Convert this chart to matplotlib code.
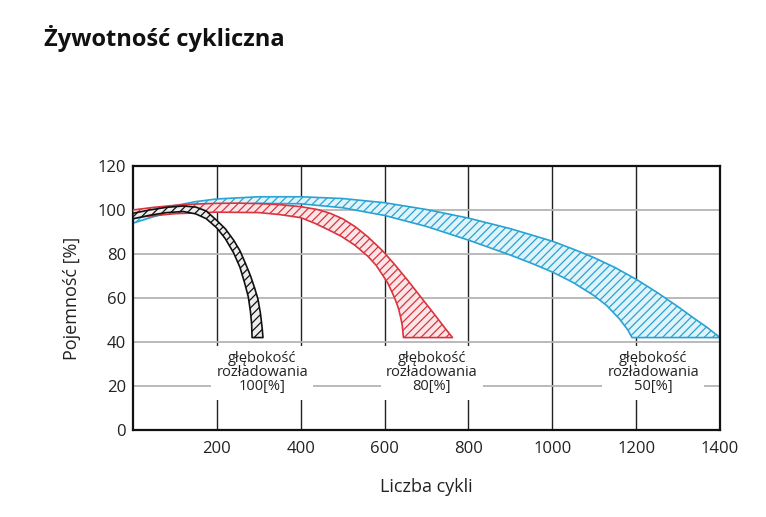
"""
plot.py — Żywotność cykliczna (pojemność vs liczba cykli dla trzech głębokości rozładowania)
"""

import matplotlib

matplotlib.use("Agg")
import matplotlib.pyplot as plt

plt.rcParams["font.family"] = ["Open Sans", "DejaVu Sans"]
plt.rcParams["hatch.linewidth"] = 0.9

# 50% DoD — niebieskie pasmo (górna i dolna krawędź)
blue_upper_x = [0, 50, 100, 150, 200, 300, 400, 500, 600, 700, 800, 900, 1000, 1050, 1100,
                1150, 1200, 1250, 1300, 1340, 1370, 1390, 1400]
blue_upper_y = [96.5, 99.5, 102, 103.8, 105, 106, 106, 105.2, 103.3, 100.2, 96.3, 91.5, 85.8, 82.2, 78.3,
                73.8, 68.5, 62.5, 56, 50.5, 46.5, 43.5, 42]
blue_lower_x = [0, 50, 100, 150, 200, 300, 400, 500, 600, 700, 800, 900, 950, 1000, 1050, 1100,
                1130, 1160, 1180, 1190]
blue_lower_y = [94, 97, 99.5, 101, 102, 103, 102.8, 101, 97.5, 92.5, 86.3, 79.5, 75.8, 71.8, 67, 61,
                56.5, 50.5, 45.5, 42]

# 80% DoD — czerwone pasmo
red_upper_x = [0, 50, 100, 150, 200, 250, 300, 350, 400, 440, 470, 500, 530, 560, 595, 625, 657,
               689, 720, 744, 762]
red_upper_y = [100, 101.2, 102.1, 102.7, 103, 103.1, 102.9, 102.4, 101.5, 100.2, 98.5, 96, 92.4, 87.8,
               81.5, 75, 67.6, 59.8, 52.3, 46.3, 42]
red_lower_x = [0, 100, 200, 300, 350, 400, 433, 466, 497, 529, 561, 580, 595, 607, 617, 626, 633,
               638, 642, 645]
red_lower_y = [96.5, 98.3, 99, 98.8, 97.9, 96.5, 94, 91, 88, 84, 78.8, 74.8, 70.5, 67, 63, 59, 55.3,
               51.5, 47.7, 42]

# 100% DoD — czarne pasmo
black_upper_x = [0, 40, 80, 120, 150, 175, 200, 220, 240, 255, 268, 280, 290, 298, 304, 308, 310]
black_upper_y = [98.5, 100, 101.2, 101.8, 101.3, 99.5, 95.2, 91.5, 86.3, 81.5, 75.8, 70.2, 64.6, 59.5,
                 53, 46.5, 42]
black_lower_x = [0, 40, 80, 120, 150, 175, 200, 220, 240, 255, 266, 275, 280, 283, 284]
black_lower_y = [96, 97.6, 98.8, 99.3, 98.2, 96, 91.8, 87, 80.5, 74, 67, 60.5, 54, 48, 42]

labels = ["głębokość\nrozładowania\n100[%]", "głębokość\nrozładowania\n80[%]",
          "głębokość\nrozładowania\n50[%]"]
label_x = [308, 712, 1241]
label_y = [26.0, 26.0, 26.0]

x_ticks = [200, 400, 600, 800, 1000, 1200, 1400]
y_ticks = [0, 20, 40, 60, 80, 100, 120]


def _band(ax, ux, uy, lx, ly, edge, face, z):
    xs = list(ux) + list(lx[::-1])
    ys = list(uy) + list(ly[::-1])
    ax.fill(xs, ys, facecolor=face, edgecolor=edge, hatch="////", linewidth=1.2,
            joinstyle="round", zorder=z)


fig = plt.figure(figsize=(7.66, 5.17), dpi=100)
ax = fig.add_axes([0.1736, 0.1683, 0.7664, 0.5107])

ax.set_xlim(0, 1400)
ax.set_ylim(0, 120)

for xv in x_ticks[:-1]:
    ax.axvline(xv, color="#222222", linewidth=1.0, zorder=1)
for yv in y_ticks[1:-1]:
    ax.axhline(yv, color="#b4b4b4", linewidth=1.3, zorder=1)

_band(ax, blue_upper_x, blue_upper_y, blue_lower_x, blue_lower_y, "#2aa3d3", "#dff3fa", 2)
_band(ax, red_upper_x, red_upper_y, red_lower_x, red_lower_y, "#d8353f", "#fbe5e7", 3)
_band(ax, black_upper_x, black_upper_y, black_lower_x, black_lower_y, "#111111", "#ececec", 4)

for txt, lx_, ly_ in zip(labels, label_x, label_y):
    ax.text(
        lx_, ly_, txt, ha="center", va="center", fontsize=10.5, color="#222222",
        linespacing=0.92, zorder=5,
        bbox=dict(boxstyle="square,pad=0.35", facecolor="white", edgecolor="none"),
    )

ax.set_xticks(x_ticks)
ax.set_yticks(y_ticks)
ax.tick_params(length=0, labelsize=12, colors="#222222")
ax.tick_params(axis="x", pad=8)
ax.tick_params(axis="y", pad=5)
for sp in ax.spines.values():
    sp.set_color("#111111")
    sp.set_linewidth(1.6)

ax.set_xlabel("Liczba cykli", fontsize=13, color="#222222", labelpad=15)
ax.set_ylabel("Pojemność [%]", fontsize=13, color="#222222", labelpad=12)

fig.text(0.057, 0.926, "Żywotność cykliczna", fontsize=17, fontweight="bold", color="#111111",
         ha="left", va="center")

fig.savefig("out.png", dpi=100)
